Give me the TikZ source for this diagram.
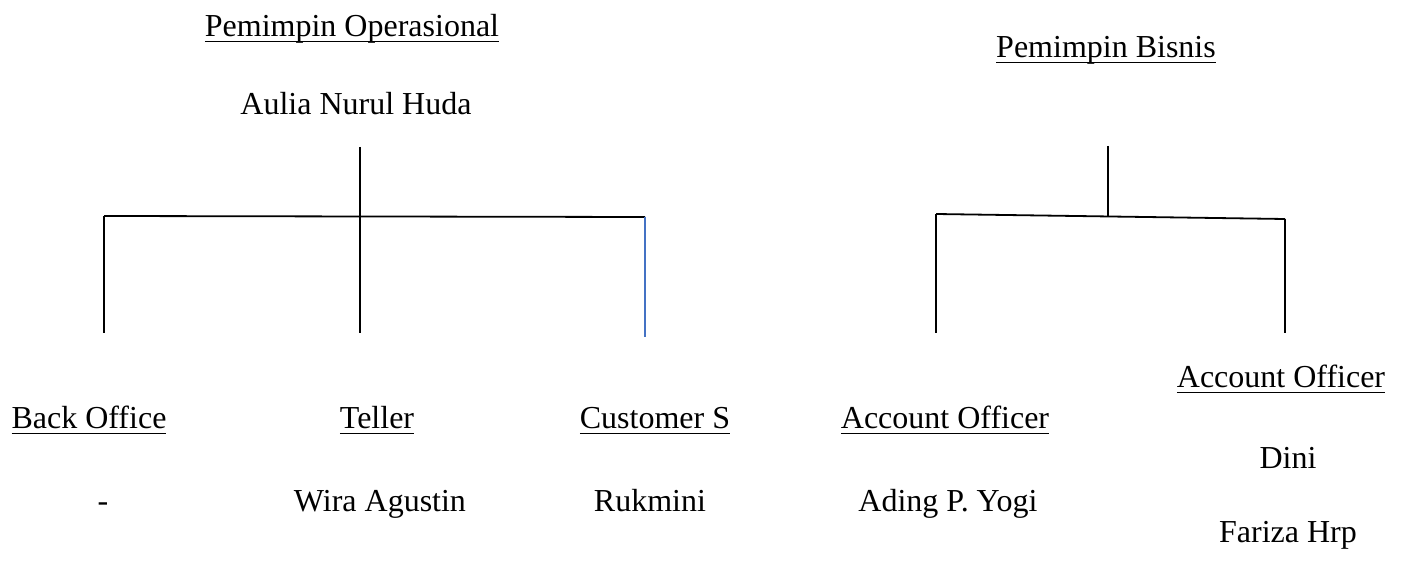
\documentclass[tikz,border=0pt]{standalone}
\usepackage{fontspec}
\setmainfont{Liberation Serif}
\usepackage{xcolor}
\usetikzlibrary{positioning}
\definecolor{garisbiru}{HTML}{4472C4}
\newcommand{\garisbawah}[1]{\setbox0\hbox{#1}\rlap{\rule[-2.6pt]{\wd0}{0.8pt}}\box0}

\begin{document}
\begin{tikzpicture}[x=0.5pt, y=-0.5pt,
  jabatan/.style={anchor=base, inner sep=0pt, font=\fontsize{16}{19}\selectfont},
  nama/.style={anchor=base, inner sep=0pt, font=\fontsize{16}{19}\selectfont},
  garis/.style={line width=0.9pt, black},
  garisb/.style={line width=0.9pt, garisbiru}
]
\useasboundingbox (0,0) rectangle (1405,561);

\node[jabatan] (pimop)  at (352,37)   {\garisbawah{Pemimpin Operasional}};
\node[nama]    (aulia)  at (356,115)  {Aulia Nurul Huda};
\node[jabatan] (pimbis) at (1106,58)  {\garisbawah{Pemimpin Bisnis}};

\node[jabatan] (backoff) at (89,429)   {\garisbawah{Back Office}};
\node[jabatan] (teller)  at (377,429)  {\garisbawah{Teller}};
\node[jabatan] (cs)      at (655,429)  {\garisbawah{Customer S}};
\node[jabatan] (ao1)     at (945,429)  {\garisbawah{Account Officer}};
\node[jabatan] (ao2)     at (1281,388) {\garisbawah{Account Officer}};

\node[nama] (kosong) at (103,512)  {-};
\node[nama] (wira)   at (380,512)  {Wira Agustin};
\node[nama] (rukmi)  at (650,512)  {Rukmini};
\node[nama] (ading)  at (948,512)  {Ading P. Yogi};
\node[nama] (dini)   at (1288,469) {Dini};
\node[nama] (fariza) at (1288,543) {Fariza Hrp};

\coordinate (op)   at (360,147);
\coordinate (opj)  at (360,217);
\coordinate (opl)  at (104,216);
\coordinate (opr)  at (645,217);
\coordinate (bo)   at (104,333);
\coordinate (tl)   at (360,333);
\coordinate (csb)  at (645,337);

\coordinate (bis)  at (1108,146);
\coordinate (bisj) at (1108,216);
\coordinate (bisl) at (936,214);
\coordinate (bisr) at (1285,219);
\coordinate (aoa)  at (936,333);
\coordinate (aob)  at (1285,333);

\draw[garis] (op) -- (opj);
\draw[garis] (opl) -- (opr);
\draw[garis] (opl) -- (bo);
\draw[garis] (opj) -- (tl);
\draw[garisb] (opr) -- (csb);

\draw[garis] (bis) -- (bisj);
\draw[garis] (bisl) -- (bisr);
\draw[garis] (bisl) -- (aoa);
\draw[garis] (bisr) -- (aob);
\end{tikzpicture}
\end{document}
